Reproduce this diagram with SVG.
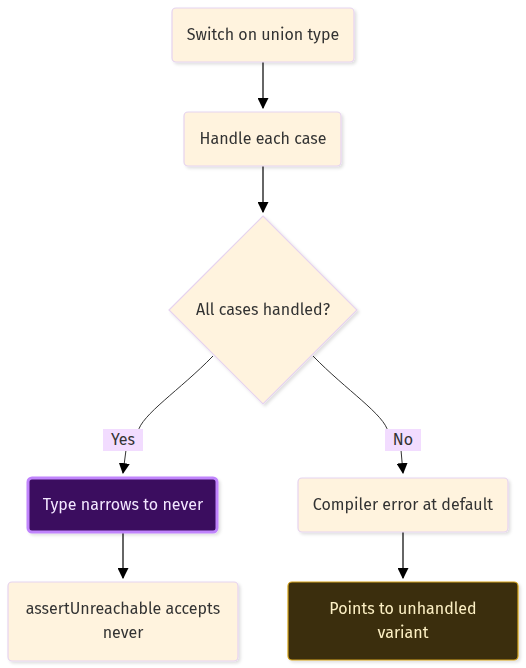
<svg xmlns="http://www.w3.org/2000/svg" width="526" height="668" viewBox="0 0 526 668">
<style>
.n{fill:#fff3de;stroke:#e6d3ef;stroke-width:1.2}
.t{font-family:"Fira Sans","Noto Sans","Open Sans",sans-serif;font-size:16px;fill:#333;text-anchor:middle;dominant-baseline:central}
.e{fill:none;stroke:#333;stroke-width:1}
.lb{fill:#f2dcff}
</style>
<defs>
<marker id="ah" viewBox="0 0 10 10" refX="9" refY="5" markerWidth="11" markerHeight="11" orient="auto" markerUnits="userSpaceOnUse">
<path d="M0,0L10,5L0,10z" fill="#000"/>
</marker>
<filter id="sh" x="-10%" y="-10%" width="130%" height="140%">
<feDropShadow dx="2" dy="2" stdDeviation="1.5" flood-color="#000" flood-opacity="0.12"/>
</filter>
</defs>
<g id="edges">
<path class="e" d="M263,62V108" marker-end="url(#ah)" style="stroke-width:1.5"/>
<path class="e" d="M263,166V212" marker-end="url(#ah)" style="stroke-width:1.5"/>
<path class="e" d="M213,356C180,390 141,415 138,432M126,450L123,473" marker-end="url(#ah)"/>
<path class="e" d="M313,356C346,390 385,415 388,432M401,450L403,473" marker-end="url(#ah)"/>
<path class="e" d="M123,533V578" marker-end="url(#ah)" style="stroke-width:1.5"/>
<path class="e" d="M403,532V578" marker-end="url(#ah)" style="stroke-width:1.5"/>
</g>
<g id="lblYes"><rect class="lb" x="103" y="429" width="40" height="22"/><text class="t" x="123" y="439">Yes</text></g>
<g id="lblNo"><rect class="lb" x="385" y="429" width="36" height="22"/><text class="t" x="403" y="439">No</text></g>
<g id="n1" filter="url(#sh)"><rect class="n" x="172" y="8" width="182" height="54" rx="4"/><text class="t" x="263" y="34">Switch on union type</text></g>
<g id="n2" filter="url(#sh)"><rect class="n" x="184" y="112" width="157" height="54" rx="4"/><text class="t" x="263" y="138">Handle each case</text></g>
<g id="n3" filter="url(#sh)"><path class="n" d="M263,216L357,310L263,404L169,310Z"/><text class="t" x="263" y="309">All cases handled?</text></g>
<g id="n4" filter="url(#sh)"><rect x="28" y="478" width="189" height="54" rx="4" fill="#3b0a5f" stroke="#c084fc" stroke-width="3"/><text class="t" x="123" y="504" style="fill:#f3e8ff">Type narrows to never</text></g>
<g id="n5" filter="url(#sh)"><rect class="n" x="298" y="478" width="210" height="54" rx="4"/><text class="t" x="403" y="504">Compiler error at default</text></g>
<g id="n6" filter="url(#sh)"><rect class="n" x="8" y="582" width="230" height="79" rx="4"/><text class="t" x="123" y="608">assertUnreachable accepts</text><text class="t" x="123" y="632">never</text></g>
<g id="n7" filter="url(#sh)"><rect x="288" y="582" width="230" height="78" rx="4" fill="#3b2f0e" stroke="#d4a21a" stroke-width="1.2"/><text class="t" x="403" y="608" style="fill:#fdf0c4">Points to unhandled</text><text class="t" x="403" y="632" style="fill:#fdf0c4">variant</text></g>
</svg>
